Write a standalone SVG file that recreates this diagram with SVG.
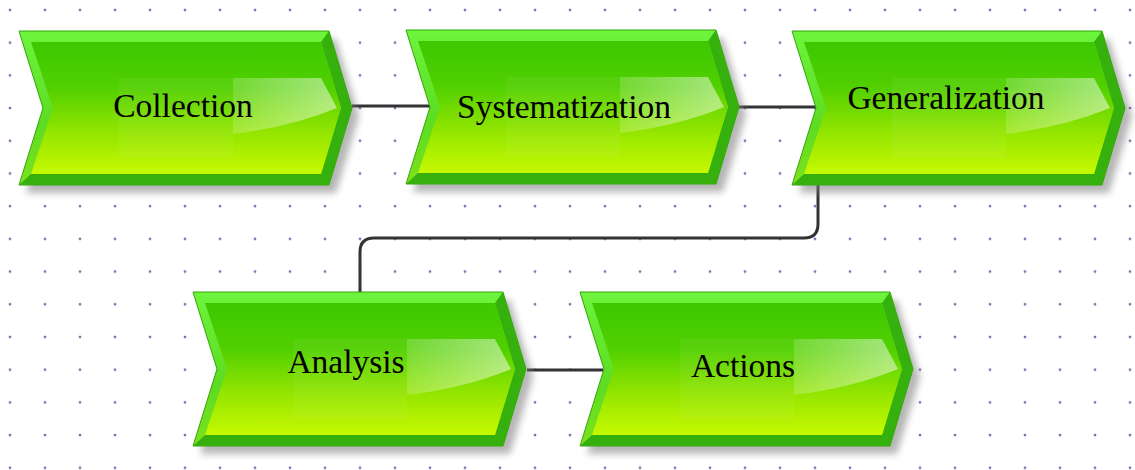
<svg xmlns="http://www.w3.org/2000/svg" width="1135" height="470" viewBox="0 0 1135 470">
<defs>
  <pattern id="grid" patternUnits="userSpaceOnUse" width="35" height="32.7">
    <circle cx="10" cy="10" r="1.4" fill="#7474b0"/>
  </pattern>
  <filter id="blur" x="-10%" y="-10%" width="120%" height="130%">
    <feGaussianBlur stdDeviation="3.5"/>
  </filter>
  <linearGradient id="outerG" x1="0" y1="0" x2="0" y2="1">
    <stop offset="0" stop-color="#6df43c"/>
    <stop offset="0.6" stop-color="#5cdc22"/>
    <stop offset="1" stop-color="#7ee21c"/>
  </linearGradient>
  <linearGradient id="innerG" x1="0" y1="0" x2="0" y2="1">
    <stop offset="0" stop-color="#3cc800"/>
    <stop offset="0.35" stop-color="#52d000"/>
    <stop offset="0.7" stop-color="#96e600"/>
    <stop offset="1" stop-color="#c6f900"/>
  </linearGradient>
  <linearGradient id="glossG" x1="0" y1="0" x2="1" y2="0">
    <stop offset="0" stop-color="#ffffff" stop-opacity="0.2"/>
    <stop offset="1" stop-color="#ffffff" stop-opacity="0.5"/>
  </linearGradient>
  <g id="shape">
    <polygon points="0,0 310,0 333,77 310,154 0,154 24,77" transform="translate(7,8)" fill="#7a7a7a" opacity="0.55" filter="url(#blur)"/>
    <polygon points="0,0 310,0 333,77 310,154 0,154 24,77" fill="url(#outerG)" stroke="#35a50a" stroke-width="1"/>
    <polygon points="302,11 322,77 302,143 12,143 0,154 310,154 333,77 310,0" fill="#36b00c"/>
    <polygon points="12,11 302,11 322,77 302,143 12,143 34,77" fill="url(#innerG)"/>
    <rect x="100" y="47" width="114" height="80" fill="#ffffff" opacity="0.05"/>
    <path d="M214,47 L302,47 L318,77 Q272,96 214,103 Z" fill="url(#glossG)"/>
  </g>
</defs>
<style>
  .lbl { font-family: "Liberation Serif", "Times New Roman", serif; font-size: 33.5px; fill: #000; text-anchor: middle; }
  .conn { fill: none; stroke: #333333; stroke-width: 3; }
</style>
<rect width="1135" height="470" fill="#ffffff"/>
<rect width="1135" height="470" fill="url(#grid)"/>
<g id="connectors">
  <path class="conn" d="M352,106 H430"/>
  <path class="conn" d="M738,107 H817"/>
  <path class="conn" d="M818,185 V224 Q818,238 804,238 H374 Q360,238 360,252 V292"/>
  <path class="conn" d="M527,370 H603"/>
</g>
<g id="node-collection">
  <use href="#shape" transform="translate(19,31)"/>
  <text class="lbl" x="183" y="117">Collection</text>
</g>
<g id="node-systematization">
  <use href="#shape" transform="translate(406,30)"/>
  <text class="lbl" x="564" y="118">Systematization</text>
</g>
<g id="node-generalization">
  <use href="#shape" transform="translate(792,31)"/>
  <text class="lbl" x="946" y="109">Generalization</text>
</g>
<g id="node-analysis">
  <use href="#shape" transform="translate(193,292)"/>
  <text class="lbl" x="346" y="373">Analysis</text>
</g>
<g id="node-actions">
  <use href="#shape" transform="translate(580,292)"/>
  <text class="lbl" x="743" y="377">Actions</text>
</g>
</svg>
